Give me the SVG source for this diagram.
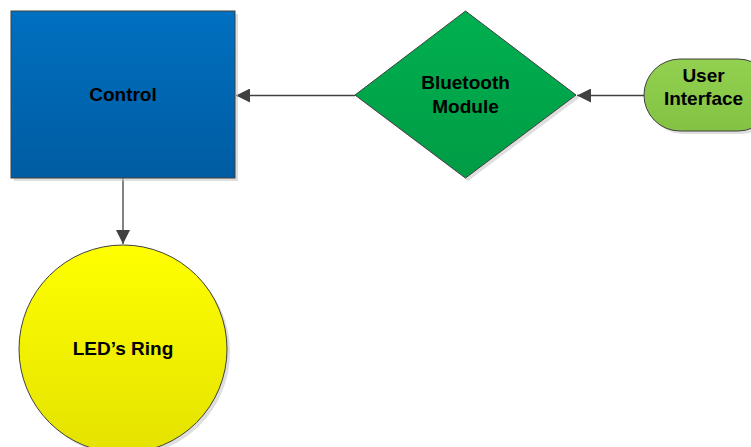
<svg xmlns="http://www.w3.org/2000/svg" width="751" height="447" viewBox="0 0 751 447">
<defs>
<linearGradient id="gBlue" x1="0" y1="0" x2="0" y2="1"><stop offset="0" stop-color="#0070C0"/><stop offset="1" stop-color="#005CA2"/></linearGradient>
<linearGradient id="gGreen" x1="0" y1="0" x2="0" y2="1"><stop offset="0" stop-color="#00B050"/><stop offset="1" stop-color="#009C45"/></linearGradient>
<linearGradient id="gLight" x1="0" y1="0" x2="0" y2="1"><stop offset="0" stop-color="#92D050"/><stop offset="1" stop-color="#84C243"/></linearGradient>
<linearGradient id="gYellow" x1="0" y1="0" x2="0" y2="1"><stop offset="0" stop-color="#FFFF00"/><stop offset="1" stop-color="#E4E200"/></linearGradient>
<marker id="arr" viewBox="0 0 10 10" refX="10" refY="5" markerWidth="14" markerHeight="14" markerUnits="userSpaceOnUse" orient="auto">
<path d="M0,0 L10,5 L0,10 z" fill="#404040"/>
</marker>
</defs>
<style>
.shape{stroke:#404040;stroke-width:1}
.shadow{fill:#c8c8c8;opacity:0.6}
.lbl{font-family:"Liberation Sans",Arial,sans-serif;font-weight:bold;font-size:19px;fill:#000;text-anchor:middle}
.conn{stroke:#404040;stroke-width:1.3;fill:none}
</style>
<rect width="751" height="447" fill="#fff"/>
<g id="connectors">
<line class="conn" x1="355" y1="95.5" x2="236" y2="95.5" marker-end="url(#arr)"/>
<line class="conn" x1="644" y1="95.5" x2="577" y2="95.5" marker-end="url(#arr)"/>
<line class="conn" x1="123" y1="178" x2="123" y2="244" marker-end="url(#arr)"/>
</g>
<g id="control">
<rect class="shadow" x="14" y="14" width="224" height="167"/>
<rect class="shape" x="11" y="11" width="224" height="167" fill="url(#gBlue)"/>
<text class="lbl" x="123" y="101">Control</text>
</g>
<g id="bluetooth">
<polygon class="shadow" points="468,14 579,98 468,181 358,98"/>
<polygon class="shape" points="465.5,11 576,95 465.5,178 355,95" fill="url(#gGreen)"/>
<text class="lbl" x="465.5" y="89">Bluetooth</text>
<text class="lbl" x="465.5" y="112.5">Module</text>
</g>
<g id="user-interface">
<rect class="shadow" x="647" y="62" width="130" height="72" rx="36"/>
<rect class="shape" x="644" y="59" width="130" height="72" rx="36" fill="url(#gLight)"/>
<text class="lbl" x="703.5" y="81.5">User</text>
<text class="lbl" x="703.5" y="105">Interface</text>
</g>
<g id="leds-ring">
<circle class="shadow" cx="126" cy="352" r="104"/>
<circle class="shape" cx="123" cy="349" r="104" fill="url(#gYellow)"/>
<text class="lbl" x="123" y="355">LED’s Ring</text>
</g>
</svg>
